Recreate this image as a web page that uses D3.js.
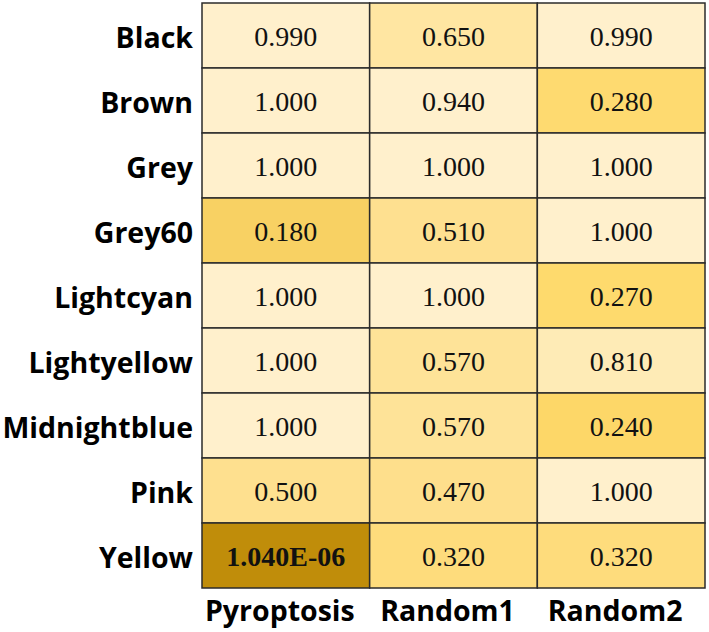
<!DOCTYPE html>
<html>
<head>
<meta charset="utf-8">
<script src="https://cdn.jsdelivr.net/npm/d3@7"></script>
<style>
html,body{margin:0;padding:0;background:#fff;}
svg{display:block;}
</style>
</head>
<body>
<svg id="chart" width="709" height="632"></svg>
<script>
const rows = ["Black","Brown","Grey","Grey60","Lightcyan","Lightyellow","Midnightblue","Pink","Yellow"];
const cols = ["Pyroptosis","Random1","Random2"];
const pyroptosis = [0.990, 1.000, 1.000, 0.180, 1.000, 1.000, 1.000, 0.500, 1.04e-6];
const random1    = [0.650, 0.940, 1.000, 0.510, 1.000, 0.570, 0.570, 0.470, 0.320];
const random2    = [0.990, 0.280, 1.000, 1.000, 0.270, 0.810, 0.240, 1.000, 0.320];
const labels = {
  Pyroptosis: ["0.990","1.000","1.000","0.180","1.000","1.000","1.000","0.500","1.040E-06"],
  Random1:    ["0.650","0.940","1.000","0.510","1.000","0.570","0.570","0.470","0.320"],
  Random2:    ["0.990","0.280","1.000","1.000","0.270","0.810","0.240","1.000","0.320"]
};
const series = {Pyroptosis: pyroptosis, Random1: random1, Random2: random2};

const cells = [];
cols.forEach(c => rows.forEach((r, i) => cells.push({row: r, col: c, value: series[c][i], label: labels[c][i]})));

const svg = d3.select("#chart");
const margin = {left: 202, top: 3, right: 4, bottom: 44};
const W = 709, H = 632;

const x = d3.scaleBand().domain(cols).range([margin.left, W - margin.right]);
const y = d3.scaleBand().domain(rows).range([margin.top, H - margin.bottom]);

const color = d3.scaleLinear()
  .domain([0, 0.18, 0.26, 0.32, 0.5, 0.65, 0.81, 0.94, 1])
  .range(["#c08d0a", "#f8d163", "#fed96a", "#fedc7c", "#fee08f", "#ffe6a2", "#feebb6", "#fff0cc", "#fff0cc"])
  .clamp(true);

const g = svg.append("g");
g.selectAll("rect.cell").data(cells).join("rect")
  .attr("class", "cell")
  .attr("x", d => x(d.col))
  .attr("y", d => y(d.row))
  .attr("width", x.bandwidth())
  .attr("height", y.bandwidth())
  .attr("fill", d => color(d.value))
  .attr("stroke", "#2b2b2b")
  .attr("stroke-width", 1.5);

g.selectAll("text.val").data(cells).join("text")
  .attr("class", "val")
  .attr("x", d => x(d.col) + x.bandwidth() / 2)
  .attr("y", d => y(d.row) + y.bandwidth() / 2 + 1)
  .attr("text-anchor", "middle")
  .attr("dominant-baseline", "central")
  .attr("font-family", "'Liberation Serif','Times New Roman',serif")
  .attr("font-size", 28)
  .attr("font-weight", d => d.value < 0.01 ? "bold" : "normal")
  .attr("fill", "#111")
  .text(d => d.label);

const yAxis = d3.axisLeft(y).tickSize(0).tickPadding(9);
const ya = svg.append("g").attr("transform", `translate(${margin.left},0)`).call(yAxis);
ya.select(".domain").remove();
ya.selectAll("text")
  .attr("font-family", "'Open Sans', sans-serif")
  .attr("font-weight", "bold")
  .attr("font-size", 28.5)
  .attr("fill", "#000")
  .attr("dy", "0.45em");

const xAxis = d3.axisBottom(x).tickSize(0).tickPadding(13);
const xa = svg.append("g").attr("transform", `translate(0,${H - margin.bottom})`).call(xAxis);
xa.select(".domain").remove();
xa.selectAll("text")
  .attr("font-family", "'Open Sans', sans-serif")
  .attr("font-weight", "bold")
  .attr("font-size", 28.5)
  .attr("fill", "#000")
  .attr("dx", -6);
</script>
</body>
</html>
